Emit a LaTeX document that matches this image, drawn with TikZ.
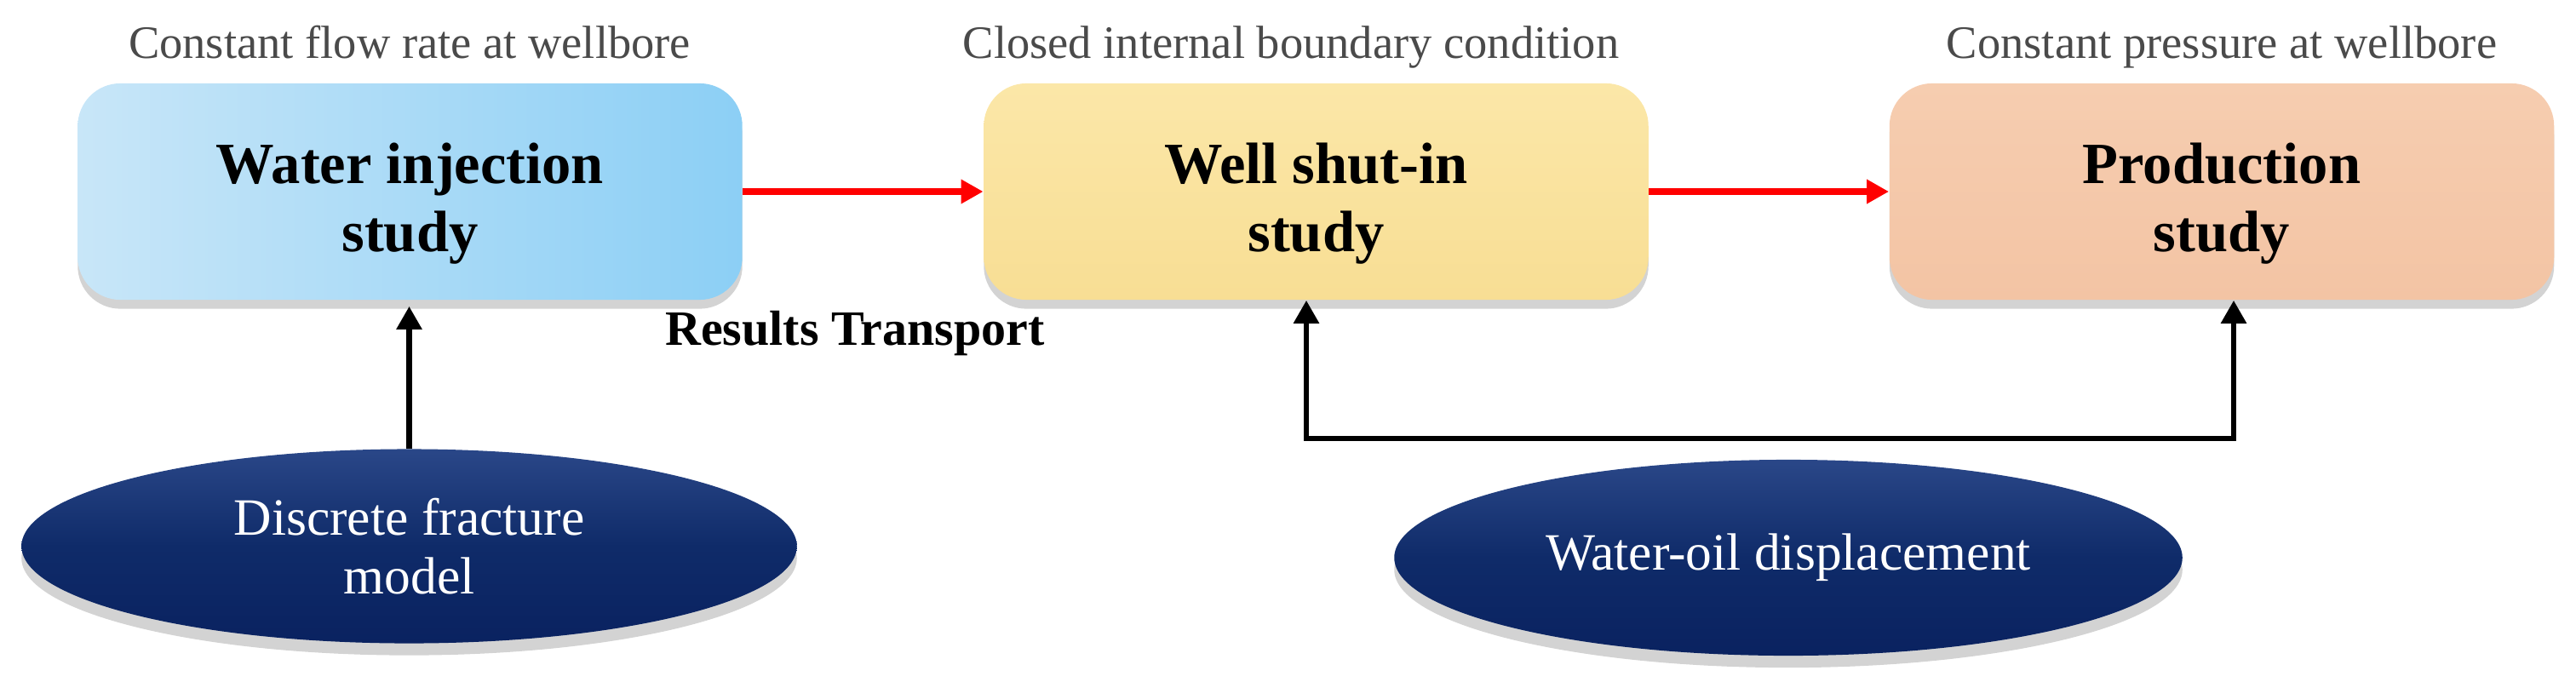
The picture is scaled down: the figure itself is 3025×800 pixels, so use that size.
\documentclass[tikz,border=0pt]{standalone}
\usepackage{fontspec}
\setmainfont{Liberation Serif}
\usetikzlibrary{arrows.meta,shapes.geometric,shadows}
\definecolor{blueL}{HTML}{C8E6F8}
\definecolor{blueD}{HTML}{8CCFF5}
\definecolor{yelL}{HTML}{FBE7A8}
\definecolor{yelD}{HTML}{F8DE94}
\definecolor{peaL}{HTML}{F6CDB0}
\definecolor{peaD}{HTML}{F3C4A4}
\definecolor{navyL}{HTML}{2A4788}
\definecolor{navyM}{HTML}{0F2B69}
\definecolor{navyD}{HTML}{0A2260}
\definecolor{titlegray}{HTML}{4A4A4A}
\definecolor{arrred}{HTML}{FF0000}
\tikzset{
  studybox/.style={rounded corners=0.5cm, minimum width=7.8cm, minimum height=2.54cm,
    drop shadow={shadow xshift=0pt, shadow yshift=-3pt, opacity=0.35}},
  boxtext/.style={align=center, font=\fontsize{19.5}{23}\selectfont\bfseries, text=black},
  modelell/.style={ellipse, minimum width=9.1cm, minimum height=2.28cm, inner sep=0pt,
    align=center, font=\fontsize{17.5}{19.5}\selectfont, text=white,
    top color=navyL, bottom color=navyD, middle color=navyM,
    drop shadow={shadow xshift=0pt, shadow yshift=-4pt, opacity=0.35}},
  toptitle/.style={anchor=base, font=\fontsize{15.5}{18}\selectfont, text=titlegray},
  redarrow/.style={draw=arrred, line width=2pt, -{Triangle[length=7.4pt,width=7.7pt]}},
  blackarrow/.style={draw=black, line width=1.8pt, {Triangle[length=7.7pt,width=8.2pt]}-{Triangle[length=7.7pt,width=8.2pt]}},
  blackup/.style={draw=black, line width=1.8pt, -{Triangle[length=7.7pt,width=8.2pt]}}
}
\begin{document}
\begin{tikzpicture}[x=0.01cm, y=-0.01cm]
\useasboundingbox (0,0) rectangle (3025,800);
% boxes
\node[studybox, left color=blueL, right color=blueD] (b1) at (481.5,225) {};
\node[studybox, top color=yelL, bottom color=yelD] (b2) at (1545.5,225) {};
\node[studybox, top color=peaL, bottom color=peaD] (b3) at (2609,225) {};
\node[boxtext] (b1t) at ([yshift=-4pt]b1.center) {Water injection\\study};
\node[boxtext] (b2t) at ([yshift=-4pt]b2.center) {Well shut-in\\study};
\node[boxtext] (b3t) at ([yshift=-4pt]b3.center) {Production\\study};
% titles
\node[toptitle] (t1) at (481,68) {Constant flow rate at wellbore};
\node[toptitle] (t2) at (1516,68) {Closed internal boundary condition};
\node[toptitle] (t3) at (2609,68) {Constant pressure at wellbore};
% ellipses
\node[modelell] (e1) at (480.5,641.5) {Discrete fracture\\model};
\node[modelell, minimum width=9.25cm, minimum height=2.3cm] (e2) at (2100,655) {Water-oil displacement};
% results label
\node[anchor=base, font=\fontsize{16.5}{19}\selectfont\bfseries] (rt) at (1004,405) {Results Transport};
% red arrows
\draw[redarrow] (b1.east) -- (b2.west);
\draw[redarrow] (b2.east) -- (b3.west);
% black arrows
\draw[blackup] (e1.north) -- ([yshift=-2pt]e1.north |- b1.south);
\coordinate (c1) at (1534,515);
\coordinate (c2) at (2623,515);
\draw[blackarrow] (b2.south -| c1) -- (c1) -- (c2) -- (b3.south -| c2);
\end{tikzpicture}
\end{document}
